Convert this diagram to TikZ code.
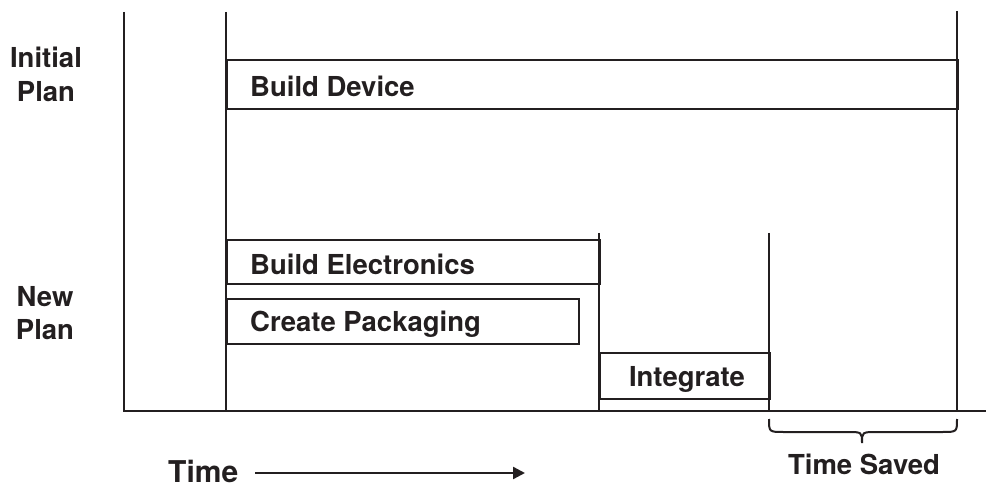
\documentclass[tikz,border=0pt]{standalone}
\usepackage{fontspec}
\setmainfont{TeX Gyre Heros}
\usetikzlibrary{arrows.meta}
\definecolor{ink}{HTML}{231F20}
\tikzset{
  rule/.style={draw=ink, line width=2.4pt},
  taskbox/.style={draw=ink, line width=2.4pt, inner sep=0pt, anchor=north west},
  lbl/.style={text=ink, inner sep=0pt, font=\fontsize{27.5}{34}\selectfont\bfseries},
}
\begin{document}
\begin{tikzpicture}[x=1pt,y=-1pt]
  \useasboundingbox (0,0) rectangle (986,489);

  % axes and milestone lines
  \coordinate (axtop) at (124,12);
  \coordinate (axend) at (986,411);
  \draw[rule] (axtop) |- (axend);
  \draw[rule] (226,12) -- (226,411);
  \draw[rule] (957,11) -- (957,411);
  \draw[rule] (599,233) -- (599,411);
  \draw[rule] (769,233) -- (769,411);

  % task bars
  \node[taskbox, minimum width=731pt, minimum height=49pt] (dev) at (226,59) {};
  \node[taskbox, minimum width=373pt, minimum height=44pt] (elec) at (226,239) {};
  \node[taskbox, minimum width=352pt, minimum height=45pt] (pack) at (226,298) {};
  \node[taskbox, minimum width=170pt, minimum height=46pt] (integ) at (599,352) {};

  % task labels
  \node[lbl, anchor=base west] (devl) at (250,97) {Build Device};
  \node[lbl, anchor=base west] (elecl) at (250,275) {Build Electronics};
  \node[lbl, anchor=base west] (packl) at (250,331) {Create Packaging};
  \node[lbl, anchor=base] (integl) at (687,386) {Integrate};

  % plan labels
  \node[lbl, anchor=base] (init1) at (46,68) {Initial};
  \node[lbl, anchor=base] (init2) at (46,102) {Plan};
  \node[lbl, anchor=base] (new1) at (45,307) {New};
  \node[lbl, anchor=base] (new2) at (45,340) {Plan};

  % time arrow
  \node[lbl, font=\fontsize{30}{36}\selectfont\bfseries, text depth=0pt, anchor=base west] (time) at (168,482) {Time};
  \coordinate (tstart) at (255,473);
  \coordinate (tend) at (525,473);
  \draw[rule, -{Triangle[length=12pt,width=12pt]}] (tstart) -- (tend);

  % brace over the saved interval
  \draw[rule, line width=2pt]
    (769,419) .. controls (769,432) .. (784,432) -- (847,432)
    .. controls (862,432) .. (862,443)
    .. controls (862,432) .. (877,432) -- (942,432)
    .. controls (957,432) .. (957,419);
  \node[lbl, anchor=base] (saved) at (864,474) {Time Saved};
\end{tikzpicture}
\end{document}
